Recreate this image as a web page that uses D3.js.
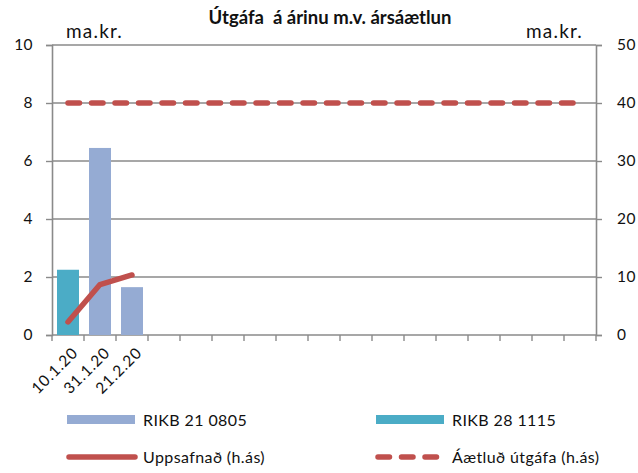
<!DOCTYPE html>
<html>
<head>
<meta charset="utf-8">
<script src="https://cdn.jsdelivr.net/npm/d3@7"></script>
<style>
  html, body { margin: 0; padding: 0; background: #fff; }
  svg { display: block; font-family: Lato, "Open Sans", sans-serif; }
</style>
</head>
<body>
<svg id="chart" width="638" height="473"></svg>
<script>
// Issue dates (17 slots for the year's auctions; only the first three are held so far)
const dates = ["10.1.20", "31.1.20", "21.2.20", "", "", "", "", "", "", "", "", "", "", "", "", "", ""];
// Issued per auction, bn ISK (left axis)
const rikb210805 = [0, 6.45, 1.65, 0, 0, 0, 0, 0, 0, 0, 0, 0, 0, 0, 0, 0, 0];
const rikb281115 = [2.25, 0, 0, 0, 0, 0, 0, 0, 0, 0, 0, 0, 0, 0, 0, 0, 0];
// Accumulated issuance, bn ISK (right axis)
const cumulative = [2.25, 8.7, 10.35];
// Planned issuance for the year, bn ISK (right axis)
const planned = [40, 40, 40, 40, 40, 40, 40, 40, 40, 40, 40, 40, 40, 40, 40, 40, 40];
const leftTicks = [0, 2, 4, 6, 8, 10];
const rightTicks = [0, 10, 20, 30, 40, 50];

const svg = d3.select("#chart");
const plotL = 52, plotR = 596, plotT = 45, plotB = 335;
const grid = "#8a8a8a";
const blue = "#95abd3", teal = "#4bacc6", red = "#c0504d";

const x = d3.scaleBand().domain(d3.range(dates.length)).range([plotL, plotR])
  .paddingInner(0.3125).paddingOuter(0.15625);
const yL = d3.scaleLinear().domain([0, 10]).range([plotB, plotT]);
const yR = d3.scaleLinear().domain([0, 50]).range([plotB, plotT]);
const cx = i => x(i) + x.bandwidth() / 2;

// Horizontal gridlines
svg.append("g").selectAll("line").data(leftTicks).join("line")
  .attr("x1", plotL).attr("x2", plotR)
  .attr("y1", d => yL(d)).attr("y2", d => yL(d))
  .attr("stroke", grid).attr("stroke-width", 1.4);

// Left axis
const axL = svg.append("g").attr("transform", `translate(${plotL},0)`)
  .call(d3.axisLeft(yL).tickValues(leftTicks).tickSize(6).tickPadding(13));
// Right axis
const axR = svg.append("g").attr("transform", `translate(${plotR},0)`)
  .call(d3.axisRight(yR).tickValues(rightTicks).tickSize(6).tickPadding(15));
[axL, axR].forEach(a => {
  a.selectAll("path").attr("stroke", grid).attr("stroke-width", 1.6);
  a.selectAll(".tick line").attr("stroke", grid).attr("stroke-width", 1.4);
  a.selectAll("text").attr("font-size", 15.5).attr("fill", "#111")
    .attr("font-family", "Lato, sans-serif").attr("letter-spacing", 0.4);
});

// Category axis: tick marks at slot boundaries, rotated date labels
const step = x.step();
const bounds = d3.range(dates.length + 1).map(i => plotL + i * step);
svg.append("g").selectAll("line").data(bounds).join("line")
  .attr("x1", d => d).attr("x2", d => d)
  .attr("y1", plotB).attr("y2", plotB + 6)
  .attr("stroke", grid).attr("stroke-width", 1.4);
svg.append("g").selectAll("text").data(dates).join("text")
  .attr("transform", (d, i) => `translate(${cx(i) + 7},${plotB + 15}) rotate(-45)`)
  .attr("text-anchor", "end").attr("dy", "0.35em")
  .attr("font-size", 15.5).attr("letter-spacing", 0.8).attr("fill", "#111")
  .text(d => d);

// Bars
svg.append("g").selectAll("rect").data(rikb210805).join("rect")
  .attr("x", (d, i) => x(i)).attr("width", x.bandwidth())
  .attr("y", d => yL(d)).attr("height", d => yL(0) - yL(d))
  .attr("fill", blue);
svg.append("g").selectAll("rect").data(rikb281115).join("rect")
  .attr("x", (d, i) => x(i)).attr("width", x.bandwidth())
  .attr("y", d => yL(d)).attr("height", d => yL(0) - yL(d))
  .attr("fill", teal);

// Planned issuance (dashed)
const line = d3.line().x((d, i) => cx(i)).y(d => yR(d));
svg.append("path").datum(planned).attr("d", line)
  .attr("fill", "none").attr("stroke", red).attr("stroke-width", 5.5)
  .attr("stroke-linecap", "round").attr("stroke-dasharray", "11.5,12");
// Accumulated issuance
svg.append("path").datum(cumulative).attr("d", line)
  .attr("fill", "none").attr("stroke", red).attr("stroke-width", 5.5)
  .attr("stroke-linecap", "round").attr("stroke-linejoin", "round");

// Title and unit labels
svg.append("text").attr("x", 330).attr("y", 24).attr("text-anchor", "middle")
  .attr("font-size", 18.5).attr("font-weight", "bold").attr("fill", "#111")
  .attr("xml:space", "preserve")
  .text("Útgáfa  á árinu m.v. ársáætlun");
svg.append("text").attr("x", 66).attr("y", 38).attr("font-size", 19)
  .attr("letter-spacing", 1.2).attr("fill", "#111").text("ma.kr.");
svg.append("text").attr("x", 526).attr("y", 38).attr("font-size", 19)
  .attr("letter-spacing", 1.2).attr("fill", "#111").text("ma.kr.");

// Legend
const legend = [
  { label: "RIKB 21 0805", color: blue, kind: "bar", x: 67, y: 420 },
  { label: "RIKB 28 1115", color: teal, kind: "bar", x: 376, y: 420 },
  { label: "Uppsafnað (h.ás)", color: red, kind: "line", x: 67, y: 457 },
  { label: "Áætluð útgáfa (h.ás)", color: red, kind: "dash", x: 376, y: 457 }
];
const lg = svg.append("g").selectAll("g").data(legend).join("g")
  .attr("transform", d => `translate(${d.x},${d.y})`);
lg.filter(d => d.kind === "bar").append("rect")
  .attr("x", 0).attr("y", -5).attr("width", 68).attr("height", 9)
  .attr("fill", d => d.color);
lg.filter(d => d.kind !== "bar").append("line")
  .attr("x1", 2).attr("x2", d => d.kind === "dash" ? 64 : 68).attr("y1", 0).attr("y2", 0)
  .attr("stroke", d => d.color).attr("stroke-width", 5.5).attr("stroke-linecap", "round")
  .attr("stroke-dasharray", d => d.kind === "dash" ? "11.5,12" : null);
lg.append("text").attr("x", 76).attr("y", 0).attr("dy", "0.35em")
  .attr("font-size", 16).attr("letter-spacing", 0.4).attr("fill", "#111").text(d => d.label);
</script>
</body>
</html>
